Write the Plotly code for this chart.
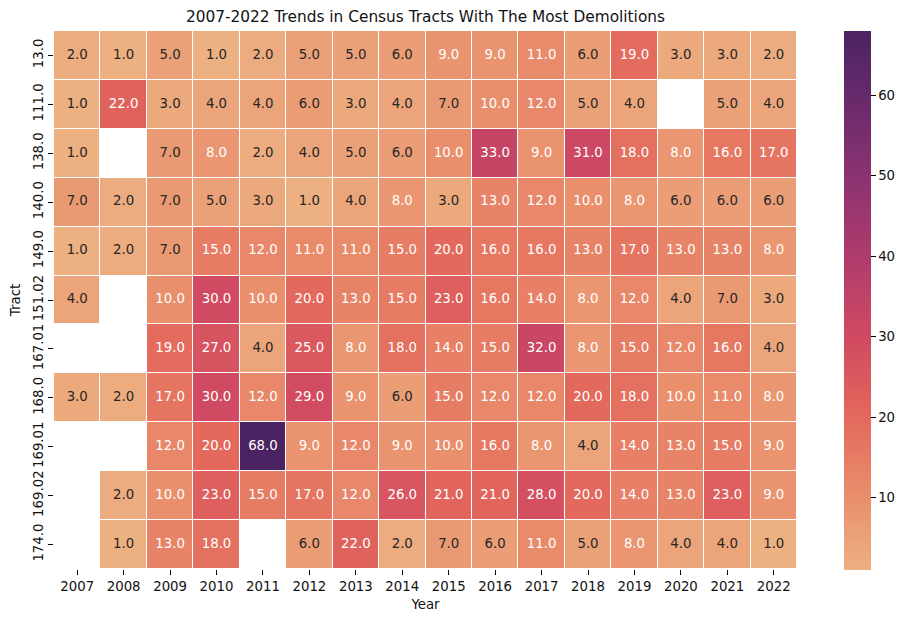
import plotly.graph_objects as go

years = ["2007","2008","2009","2010","2011","2012","2013","2014","2015","2016","2017","2018","2019","2020","2021","2022"]
tracts = ["13.0","111.0","138.0","140.0","149.0","151.02","167.01","168.0","169.01","169.02","174.0"]
N = None
t_13_0   = [2,1,5,1,2,5,5,6,9,9,11,6,19,3,3,2]
t_111_0  = [1,22,3,4,4,6,3,4,7,10,12,5,4,N,5,4]
t_138_0  = [1,N,7,8,2,4,5,6,10,33,9,31,18,8,16,17]
t_140_0  = [7,2,7,5,3,1,4,8,3,13,12,10,8,6,6,6]
t_149_0  = [1,2,7,15,12,11,11,15,20,16,16,13,17,13,13,8]
t_151_02 = [4,N,10,30,10,20,13,15,23,16,14,8,12,4,7,3]
t_167_01 = [N,N,19,27,4,25,8,18,14,15,32,8,15,12,16,4]
t_168_0  = [3,2,17,30,12,29,9,6,15,12,12,20,18,10,11,8]
t_169_01 = [N,N,12,20,68,9,12,9,10,16,8,4,14,13,15,9]
t_169_02 = [N,2,10,23,15,17,12,26,21,21,28,20,14,13,23,9]
t_174_0  = [N,1,13,18,N,6,22,2,7,6,11,5,8,4,4,1]
z = [t_13_0,t_111_0,t_138_0,t_140_0,t_149_0,t_151_02,t_167_01,t_168_0,t_169_01,t_169_02,t_174_0]

flare = ["#edb081","#e98d6b","#e3685c","#d14a61","#b13c6c","#8f3371","#6c2b6d","#4b2362"]
scale = [[i/(len(flare)-1), c] for i, c in enumerate(flare)]
FONT = "DejaVu Sans"
DARK = "#262626"

fig = go.Figure(go.Heatmap(
    z=z, x=years, y=tracts, colorscale=scale, zmin=1, zmax=68, xgap=1, ygap=1,
    hoverongaps=False,
    colorbar=dict(thickness=27, lenmode="pixels", len=539, yanchor="top", y=1.0,
                  xanchor="left", x=1.0633, xpad=0, ypad=0, outlinewidth=0,
                  tickvals=[10,20,30,40,50,60], ticks="outside", ticklen=5,
                  tickcolor="black", tickfont=dict(size=13.3, color="#111"))))

tx, ty, tt, tc = [], [], [], []
for r, row in zip(tracts, z):
    for y, v in zip(years, row):
        if v is not None:
            tx.append(y); ty.append(r); tt.append(f"{v:.1f}")
            tc.append("white" if v >= 8 else DARK)
fig.add_trace(go.Scatter(x=tx, y=ty, text=tt, mode="text", textposition="middle center",
                         textfont=dict(size=13.3, color=tc, family=FONT),
                         hoverinfo="skip", showlegend=False))

fig.update_layout(
    width=908, height=622, margin=dict(l=46, r=119, t=23, b=61, pad=0, autoexpand=False),
    paper_bgcolor="white", plot_bgcolor="white", font=dict(family=FONT, color="#111"),
    title=dict(text="2007-2022 Trends in Census Tracts With The Most Demolitions",
               x=417.5/908, xanchor="center", y=1-3/622, yanchor="top",
               font=dict(size=15.35, color="#111")),
    showlegend=False,
    xaxis=dict(type="category", categoryorder="array", categoryarray=years, automargin=False,
               title=dict(text="Year", standoff=6, font=dict(size=13.3)),
               ticks="outside", ticklen=5, tickcolor="black", tickangle=0, showgrid=False, zeroline=False,
               showline=False, tickfont=dict(size=13.3), range=[-0.5,15.5]),
    yaxis=dict(type="category", categoryorder="array", categoryarray=tracts, automargin=False,
               title=dict(text="Tract", font=dict(size=13.3)),
               ticks="outside", ticklen=5, tickcolor="black", tickangle=-90, showgrid=False, zeroline=False,
               showline=False, tickfont=dict(size=13.3), range=[10.5,-0.5]),
)
fig.write_html("out.html")
